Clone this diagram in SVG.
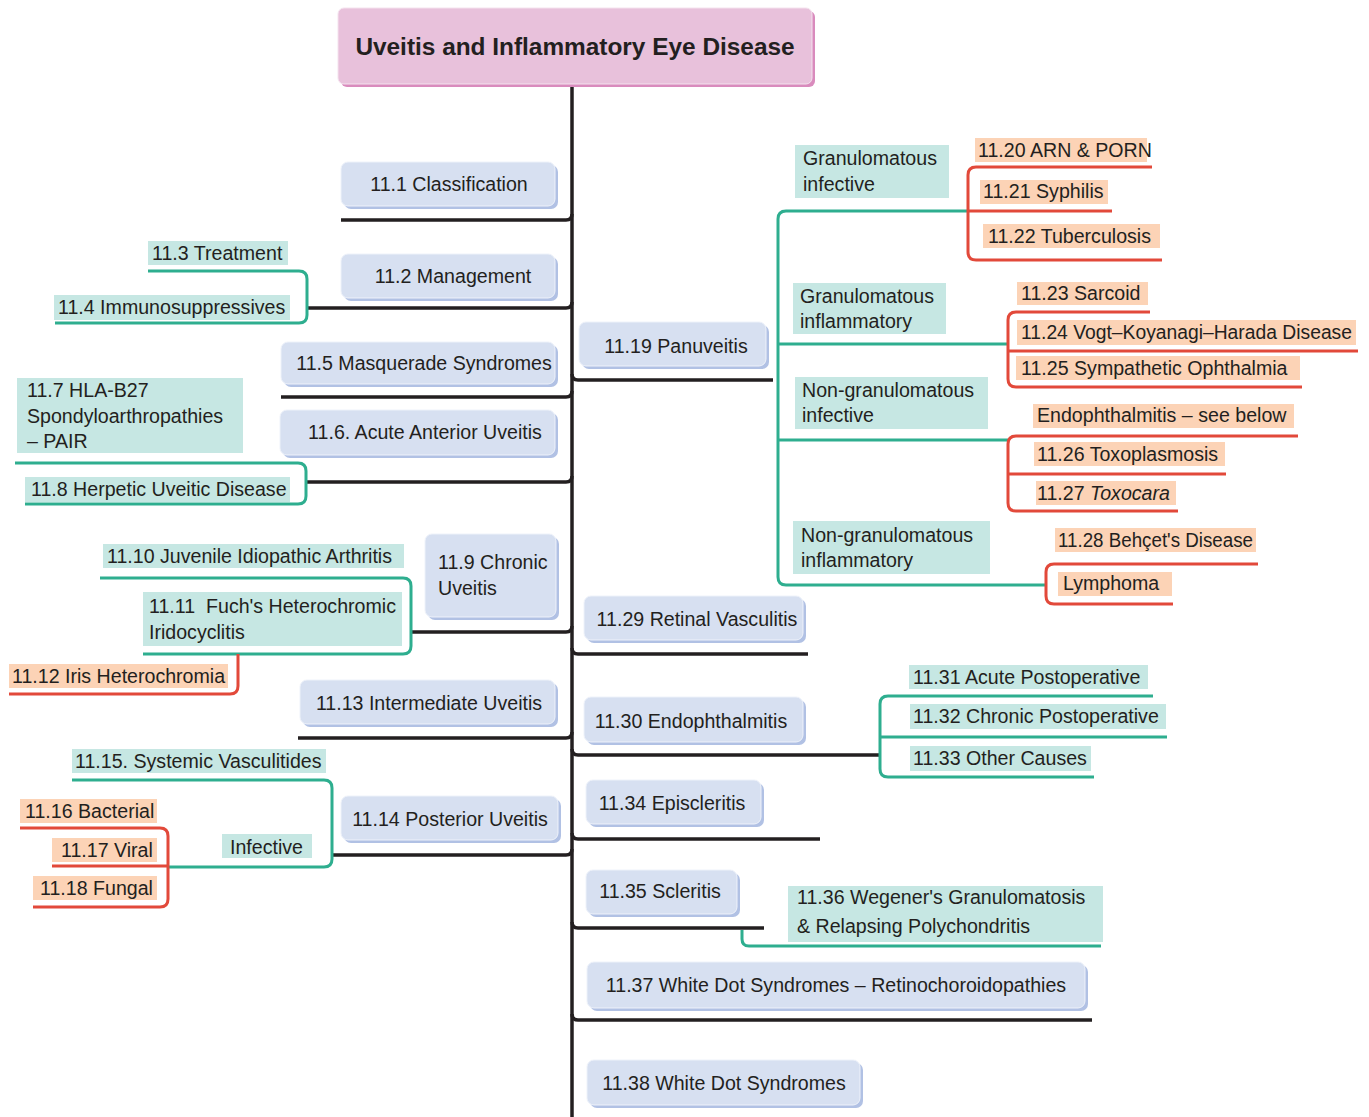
<svg xmlns="http://www.w3.org/2000/svg" width="1369" height="1117" viewBox="0 0 1369 1117">
<style>
.k{stroke:#231f20;stroke-width:3.5;fill:none}
.t{stroke:#2eae8f;stroke-width:3;fill:none}
.r{stroke:#e2493a;stroke-width:3;fill:none}
.bn{fill:#d7e0f1;stroke:#eef2fa;stroke-width:1}
.bs{fill:#b1c1e4}
.tb{fill:#c6e7e3}
.ob{fill:#fcd3b6}
text{font-family:"Liberation Sans",Arial,sans-serif;font-size:19.6px;fill:#231f20}
.c{text-anchor:middle}
</style>
<rect width="1369" height="1117" fill="#ffffff"/>
<g id="connectors">
<path class="k" d="M572,86 V1117"/>
<path class="k" d="M341,220 H566 Q572,220 572,214"/>
<path class="k" d="M308,308 H566 Q572,308 572,302"/>
<path class="k" d="M281,397 H566 Q572,397 572,391"/>
<path class="k" d="M307,482 H566 Q572,482 572,476"/>
<path class="k" d="M411,632 H566 Q572,632 572,626"/>
<path class="k" d="M298,738 H566 Q572,738 572,732"/>
<path class="k" d="M332,855 H566 Q572,855 572,849"/>
<path class="k" d="M572,374 Q572,380 578,380 H773"/>
<path class="k" d="M572,648 Q572,654 578,654 H808"/>
<path class="k" d="M572,749 Q572,755 578,755 H880"/>
<path class="k" d="M572,833 Q572,839 578,839 H820"/>
<path class="k" d="M572,922 Q572,928 578,928 H764"/>
<path class="k" d="M572,1014 Q572,1020 578,1020 H1092"/>
<path class="t" d="M148,271 H299 Q307,271 307,279 V315 Q307,323 299,323 H55"/>
<path class="t" d="M15,463 H298 Q306,463 306,471 V496 Q306,504 298,504 H25"/>
<path class="t" d="M100,578 H403 Q411,578 411,586 V646 Q411,654 403,654 H143"/>
<path class="t" d="M72,780 H324 Q332,780 332,788 V859 Q332,867 324,867 H168"/>
<path class="t" d="M967,211 H786 Q778,211 778,219 V577 Q778,585 786,585 H1046"/>
<path class="t" d="M778,344 H1008 M778,440 H1008"/>
<path class="t" d="M1153,696 H888 Q880,696 880,704 V769 Q880,777 888,777 H1094 M880,737 H1167"/>
<path class="t" d="M742,930 V939 Q742,946 749,946 H1101"/>
<path class="r" d="M238,654 V686 Q238,694 230,694 H9"/>
<path class="r" d="M20,828 H160 Q168,828 168,836 V899 Q168,907 160,907 H33 M52,866 H168"/>
<path class="r" d="M1152,167 H976 Q968,167 968,175 V252 Q968,260 976,260 H1162 M968,211 H1112"/>
<path class="r" d="M1150,312 H1016 Q1008,312 1008,320 V379 Q1008,387 1016,387 H1302 M1008,351 H1358"/>
<path class="r" d="M1298,436 H1016 Q1008,436 1008,444 V503 Q1008,511 1016,511 H1178 M1008,474 H1226"/>
<path class="r" d="M1258,564 H1054 Q1046,564 1046,572 V596 Q1046,604 1054,604 H1173"/>
</g>
<g id="title">
<rect x="341" y="11" width="474" height="76" rx="6" fill="#d98bbd"/>
<rect x="338" y="8" width="474" height="76" rx="6" fill="#e8c1db" stroke="#f4e2ee" stroke-width="1"/>
<text x="575" y="55" class="c" style="font-size:24.4px;font-weight:bold">Uveitis and Inflammatory Eye Disease</text>
</g>
<g id="n11_1"><rect class="bs" x="344" y="165" width="214" height="44" rx="7"/><rect class="bn" x="341" y="162" width="214" height="44" rx="7"/><text class="c" x="449" y="191">11.1 Classification</text></g>
<g id="n11_2"><rect class="bs" x="344" y="257" width="214" height="44" rx="7"/><rect class="bn" x="341" y="254" width="214" height="44" rx="7"/><text class="c" x="453" y="283">11.2 Management</text></g>
<g id="n11_3"><rect class="tb" x="148" y="241" width="140" height="24"/><text x="152" y="260">11.3 Treatment</text></g>
<g id="n11_4"><rect class="tb" x="54" y="295" width="236" height="25"/><text x="58" y="314">11.4 Immunosuppressives</text></g>
<g id="n11_5"><rect class="bs" x="284" y="345" width="274" height="42" rx="7"/><rect class="bn" x="281" y="342" width="274" height="42" rx="7"/><text class="c" x="424" y="370">11.5 Masquerade Syndromes</text></g>
<g id="n11_6"><rect class="bs" x="283" y="413" width="275" height="45" rx="7"/><rect class="bn" x="280" y="410" width="275" height="45" rx="7"/><text class="c" x="425" y="439">11.6. Acute Anterior Uveitis</text></g>
<g id="n11_7"><rect class="tb" x="17" y="378" width="226" height="75"/><text x="27" y="397">11.7 HLA-B27</text><text x="27" y="423">Spondyloarthropathies</text><text x="27" y="448">– PAIR</text></g>
<g id="n11_8"><rect class="tb" x="25" y="477" width="265" height="25"/><text x="31" y="496">11.8 Herpetic Uveitic Disease</text></g>
<g id="n11_9"><rect class="bs" x="428" y="537" width="131" height="83" rx="7"/><rect class="bn" x="425" y="534" width="131" height="83" rx="7"/><text x="438" y="569">11.9 Chronic</text><text x="438" y="595">Uveitis</text></g>
<g id="n11_10"><rect class="tb" x="103" y="544" width="301" height="24"/><text x="107" y="563">11.10 Juvenile Idiopathic Arthritis</text></g>
<g id="n11_11"><rect class="tb" x="143" y="592" width="259" height="54"/><text x="149" y="613">11.11&#160; Fuch's Heterochromic</text><text x="149" y="639">Iridocyclitis</text></g>
<g id="n11_12"><rect class="ob" x="9" y="664" width="219" height="24"/><text x="12" y="683">11.12 Iris Heterochromia</text></g>
<g id="n11_13"><rect class="bs" x="303" y="683" width="255" height="44" rx="7"/><rect class="bn" x="300" y="680" width="255" height="44" rx="7"/><text class="c" x="429" y="710">11.13 Intermediate Uveitis</text></g>
<g id="n11_14"><rect class="bs" x="344" y="799" width="217" height="44" rx="7"/><rect class="bn" x="341" y="796" width="217" height="44" rx="7"/><text class="c" x="450" y="826">11.14 Posterior Uveitis</text></g>
<g id="n11_15"><rect class="tb" x="72" y="749" width="254" height="24"/><text x="75" y="768">11.15. Systemic Vasculitides</text></g>
<g id="n_infective"><rect class="tb" x="222" y="834" width="90" height="24"/><text x="230" y="854">Infective</text></g>
<g id="n11_16"><rect class="ob" x="20" y="799" width="137" height="24"/><text x="25" y="818">11.16 Bacterial</text></g>
<g id="n11_17"><rect class="ob" x="52" y="838" width="105" height="24"/><text x="61" y="857">11.17 Viral</text></g>
<g id="n11_18"><rect class="ob" x="33" y="876" width="124" height="24"/><text x="40" y="895">11.18 Fungal</text></g>
<g id="n11_19"><rect class="bs" x="582" y="325" width="187" height="44" rx="7"/><rect class="bn" x="579" y="322" width="187" height="44" rx="7"/><text class="c" x="676" y="353">11.19 Panuveitis</text></g>
<g id="n_gran_inf"><rect class="tb" x="795" y="145" width="154" height="53"/><text x="803" y="165">Granulomatous</text><text x="803" y="191">infective</text></g>
<g id="n_gran_infl"><rect class="tb" x="793" y="283" width="153" height="51"/><text x="800" y="303">Granulomatous</text><text x="800" y="328">inflammatory</text></g>
<g id="n_nongran_inf"><rect class="tb" x="795" y="377" width="193" height="52"/><text x="802" y="397">Non-granulomatous</text><text x="802" y="422">infective</text></g>
<g id="n_nongran_infl"><rect class="tb" x="793" y="521" width="197" height="53"/><text x="801" y="542">Non-granulomatous</text><text x="801" y="567">inflammatory</text></g>
<g id="n11_20"><rect class="ob" x="975" y="138" width="172" height="24"/><text x="978" y="157">11.20 ARN &amp; PORN</text></g>
<g id="n11_21"><rect class="ob" x="980" y="180" width="128" height="24"/><text x="983" y="198">11.21 Syphilis</text></g>
<g id="n11_22"><rect class="ob" x="983" y="224" width="177" height="24"/><text x="988" y="243">11.22 Tuberculosis</text></g>
<g id="n11_23"><rect class="ob" x="1017" y="282" width="131" height="23"/><text x="1021" y="300">11.23 Sarcoid</text></g>
<g id="n11_24"><rect class="ob" x="1017" y="320" width="339" height="25"/><text x="1021" y="339" textLength="331" lengthAdjust="spacingAndGlyphs">11.24 Vogt–Koyanagi–Harada Disease</text></g>
<g id="n11_25"><rect class="ob" x="1016" y="356" width="284" height="24"/><text x="1021" y="375">11.25 Sympathetic Ophthalmia</text></g>
<g id="n_endo_see"><rect class="ob" x="1033" y="404" width="261" height="24"/><text x="1037" y="422">Endophthalmitis – see below</text></g>
<g id="n11_26"><rect class="ob" x="1034" y="442" width="191" height="24"/><text x="1037" y="461">11.26 Toxoplasmosis</text></g>
<g id="n11_27"><rect class="ob" x="1036" y="481" width="140" height="24"/><text x="1037" y="500">11.27 <tspan font-style="italic">Toxocara</tspan></text></g>
<g id="n11_28"><rect class="ob" x="1055" y="528" width="201" height="24"/><text x="1058" y="547" textLength="195" lengthAdjust="spacingAndGlyphs">11.28 Behçet's Disease</text></g>
<g id="n_lymphoma"><rect class="ob" x="1058" y="572" width="114" height="24"/><text x="1063" y="590">Lymphoma</text></g>
<g id="n11_29"><rect class="bs" x="587" y="599" width="219" height="44" rx="7"/><rect class="bn" x="584" y="596" width="219" height="44" rx="7"/><text class="c" x="697" y="626">11.29 Retinal Vasculitis</text></g>
<g id="n11_30"><rect class="bs" x="587" y="700" width="219" height="45" rx="7"/><rect class="bn" x="584" y="697" width="219" height="45" rx="7"/><text class="c" x="691" y="728">11.30 Endophthalmitis</text></g>
<g id="n11_31"><rect class="tb" x="909" y="665" width="239" height="24"/><text x="913" y="684">11.31 Acute Postoperative</text></g>
<g id="n11_32"><rect class="tb" x="910" y="704" width="256" height="25"/><text x="913" y="723">11.32 Chronic Postoperative</text></g>
<g id="n11_33"><rect class="tb" x="910" y="746" width="181" height="25"/><text x="913" y="765">11.33 Other Causes</text></g>
<g id="n11_34"><rect class="bs" x="589" y="783" width="175" height="44" rx="7"/><rect class="bn" x="586" y="780" width="175" height="44" rx="7"/><text class="c" x="672" y="810">11.34 Episcleritis</text></g>
<g id="n11_35"><rect class="bs" x="589" y="873" width="151" height="44" rx="7"/><rect class="bn" x="586" y="870" width="151" height="44" rx="7"/><text class="c" x="660" y="898">11.35 Scleritis</text></g>
<g id="n11_36"><rect class="tb" x="788" y="886" width="315" height="56"/><text x="797" y="904">11.36 Wegener's Granulomatosis</text><text x="797" y="933">&amp; Relapsing Polychondritis</text></g>
<g id="n11_37"><rect class="bs" x="590" y="965" width="498" height="46" rx="7"/><rect class="bn" x="587" y="962" width="498" height="46" rx="7"/><text class="c" x="836" y="992">11.37 White Dot Syndromes – Retinochoroidopathies</text></g>
<g id="n11_38"><rect class="bs" x="590" y="1063" width="273" height="45" rx="7"/><rect class="bn" x="587" y="1060" width="273" height="45" rx="7"/><text class="c" x="724" y="1090">11.38 White Dot Syndromes</text></g>
</svg>
